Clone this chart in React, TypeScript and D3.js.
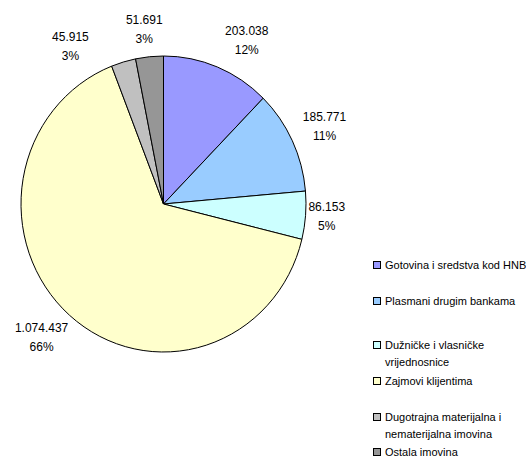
import { useEffect, useRef } from "react";
import * as d3 from "d3";

const categories = [
    "Gotovina i sredstva kod HNB",
    "Plasmani drugim bankama",
    "Dužničke i vlasničke vrijednosnice",
    "Zajmovi klijentima",
    "Dugotrajna materijalna i nematerijalna imovina",
    "Ostala imovina",
];

// legend text as it wraps in the original
const legendLines = [
    ["Gotovina i sredstva kod HNB"],
    ["Plasmani drugim bankama"],
    ["Dužničke i vlasničke", "vrijednosnice"],
    ["Zajmovi klijentima"],
    ["Dugotrajna materijalna i", "nematerijalna imovina"],
    ["Ostala imovina"],
];

const values = [203038, 185771, 86153, 1074437, 45915, 51691];

// percentages as printed on the chart
const percents = [12, 11, 5, 66, 3, 3];

const colors = ["#9999FF", "#99CCFF", "#CCFFFF", "#FFFFCC", "#C0C0C0", "#969696"];

// small manual nudges for the label placement (Excel "best fit")
const labelShift: [number, number][] = [
    [16, -2],
    [0, -3],
    [-11, -1],
    [0, 2],
    [-44, 10],
    [-2, -1],
];

// first-line y of each legend row
const legendRowY = [265, 301, 345, 381, 417, 452];

const W = 526;
const H = 468;
const FONT = "'Liberation Sans', Arial, sans-serif";

type Datum = { name: string; value: number; color: string; i: number };

export default function App() {
    const svgRef = useRef<SVGSVGElement | null>(null);

    useEffect(() => {
        const svg = d3.select(svgRef.current!);
        svg.selectAll("*").remove();

        const cx = 163.5;
        const cy = 204;
        const rx = 142.5;
        const ry = 148;

        const data: Datum[] = categories.map((name, i) => ({
            name,
            value: values[i],
            color: colors[i],
            i,
        }));

        const pie = d3.pie<Datum>().value((d) => d.value).sort(null);
        const arcs = pie(data);

        const arcGen = d3.arc<d3.PieArcDatum<Datum>>().innerRadius(0).outerRadius(ry);

        const g = svg
            .append("g")
            .attr("transform", `translate(${cx},${cy}) scale(${rx / ry},1)`);

        g.selectAll("path.slice")
            .data(arcs)
            .join("path")
            .attr("class", "slice")
            .attr("d", arcGen as any)
            .attr("fill", (d) => d.data.color)
            .attr("stroke", "#000")
            .attr("stroke-width", 1)
            .attr("vector-effect", "non-scaling-stroke");

        const fmt = d3.formatLocale({
            decimal: ",",
            thousands: ".",
            grouping: [3],
            currency: ["", ""],
        }).format(",");

        const fontSize = 12;
        const lineGap = 19;
        const gap = 12;

        const labels = svg.append("g").attr("font-family", FONT).attr("font-size", fontSize).attr("fill", "#000");

        arcs.forEach((a, i) => {
            const mid = (a.startAngle + a.endAngle) / 2;
            const s = Math.sin(mid);
            const c = Math.cos(mid);
            const t1 = fmt(a.data.value);
            const t2 = `${percents[i]}%`;
            const w = t1.length * 0.52 * 13;
            const h = 30;
            const px = cx + (rx + gap) * s + (s * w) / 2 + labelShift[i][0];
            const py = cy - (ry + gap) * c - (c * h) / 2 + labelShift[i][1];
            const t = labels.append("text").attr("text-anchor", "middle");
            t.append("tspan").attr("x", px).attr("y", py - lineGap / 2).attr("dy", "0.35em").text(t1);
            t.append("tspan").attr("x", px).attr("y", py + lineGap / 2).attr("dy", "0.35em").text(t2);
        });

        // legend
        const legX = 373;
        const legFont = 11;
        const legLine = 17;
        const lg = svg.append("g").attr("font-family", FONT).attr("font-size", legFont);
        legendLines.forEach((lines, i) => {
            const y = legendRowY[i];
            lg.append("rect")
                .attr("x", legX + 0.5)
                .attr("y", y - 3.5)
                .attr("width", 7)
                .attr("height", 7)
                .attr("fill", colors[i])
                .attr("stroke", "#000")
                .attr("stroke-width", 1);
            lines.forEach((ln, j) => {
                lg.append("text")
                    .attr("x", legX + 12)
                    .attr("y", y + j * legLine)
                    .attr("dy", "0.35em")
                    .text(ln);
            });
        });
    }, []);

    return (
        <svg
            ref={svgRef}
            width={W}
            height={H}
            style={{ position: "absolute", left: 0, top: 0, background: "#fff" }}
        />
    );
}
